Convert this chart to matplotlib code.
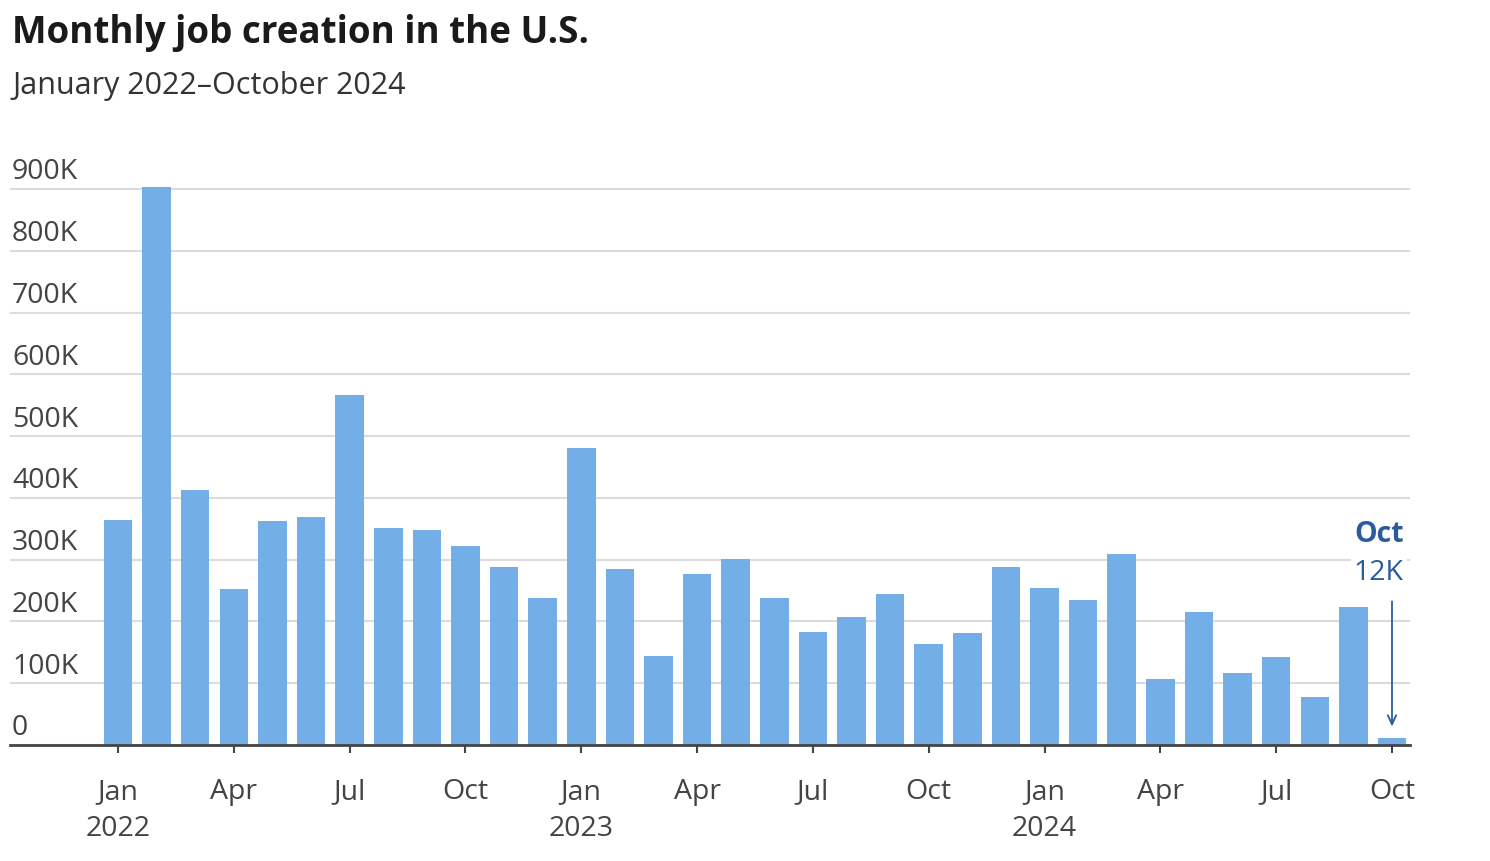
import matplotlib
matplotlib.use("Agg")
import matplotlib.pyplot as plt
import matplotlib.transforms as mtransforms

plt.rcParams['font.family'] = ['Open Sans', 'DejaVu Sans']

# ---- data (thousands of jobs) ----
months = ["Jan", "Feb", "Mar", "Apr", "May", "Jun", "Jul", "Aug", "Sep", "Oct", "Nov", "Dec"]
years = [2022, 2023, 2024]
jobs = [364, 904, 413, 252, 362, 369, 566, 351, 348, 322, 288, 238,
        481, 285, 144, 277, 301, 238, 183, 207, 244, 163, 181, 288,
        254, 235, 309, 107, 215, 117, 142, 78, 223, 12]
y_ticks = [0, 100, 200, 300, 400, 500, 600, 700, 800, 900]
y_tick_labels = ["0", "100K", "200K", "300K", "400K", "500K", "600K", "700K", "800K", "900K"]
title = "Monthly job creation in the U.S."
subtitle = "January 2022\u2013October 2024"
note_month = "Oct"
note_value = "12K"

labels = [months[i % 12] for i in range(len(jobs))]

W, H = 1490, 862
fig = plt.figure(figsize=(W / 100, H / 100), dpi=100)

ax_left, ax_right = 10, 1410
ax_bottom_px = 746
ymax = 950
px_per_k = 556 / 900.0
ax_top_px = ax_bottom_px - ymax * px_per_k
ax = fig.add_axes([ax_left / W, (H - ax_bottom_px) / H,
                   (ax_right - ax_left) / W, (ax_bottom_px - ax_top_px) / H])

x = list(range(len(jobs)))
bar_color = "#74aee7"
ax.bar(x, jobs, width=0.74, color=bar_color, zorder=2)

spacing = (1392 - 118) / 33.0
ax.set_xlim((ax_left - 118) / spacing, (ax_right - 118) / spacing)
ax.set_ylim(0, ymax)

ax.set_yticks(y_ticks)
ax.yaxis.grid(True, color="#dcdcdc", linewidth=1.5, zorder=0)
ax.set_axisbelow(True)
ax.tick_params(axis='y', length=0, labelleft=False)

tick_fs = 20.5
blend = mtransforms.blended_transform_factory(ax.transAxes, ax.transData)
for v, lab in zip(y_ticks, y_tick_labels):
    ax.annotate(lab, xy=(2 / 1400, v), xycoords=blend, xytext=(0, 7.6),
                textcoords='offset points', ha='left', va='baseline',
                fontsize=tick_fs, color="#444444")

tick_pos = [i for i in x if i % 3 == 0]
tick_labs = []
for i in tick_pos:
    lab = labels[i]
    if i % 12 == 0:
        lab = lab + "\n" + str(years[i // 12])
    tick_labs.append(lab)
ax.set_xticks(tick_pos)
ax.set_xticklabels(tick_labs, fontsize=tick_fs, color="#444444", linespacing=1.45, va='top')
ax.tick_params(axis='x', length=6, width=1.5, color="#444444", pad=17)

for s in ["top", "right", "left"]:
    ax.spines[s].set_visible(False)
ax.spines["bottom"].set_color("#444444")
ax.spines["bottom"].set_linewidth(2)
ax.spines["bottom"].set_zorder(3)

note_color = "#2a5b9c"
last = len(jobs) - 1
ax.annotate(note_month, xy=(last, jobs[last]), xytext=(8.6, 147), textcoords='offset points',
            ha='right', va='center', fontsize=tick_fs, fontweight='bold', color=note_color, zorder=5)
ax.annotate(note_value, xy=(last, jobs[last]), xytext=(8.6, 119.5), textcoords='offset points',
            ha='right', va='center', fontsize=tick_fs, color=note_color, zorder=5,
            bbox=dict(boxstyle='square,pad=0.1', facecolor='white', edgecolor='none'))
ax.annotate('', xy=(last, jobs[last]), xytext=(0, 98), textcoords='offset points',
            arrowprops=dict(arrowstyle='->,head_length=0.65,head_width=0.3', color=note_color,
                            lw=1.3, shrinkA=0, shrinkB=8), zorder=5)

fig.text(12 / W, (H - 43) / H, title, fontsize=26.5, fontweight='bold', color="#1a1a1a",
         ha='left', va='baseline')
fig.text(12 / W, (H - 94) / H, subtitle, fontsize=22, color="#333333",
         ha='left', va='baseline')

fig.savefig("out.png", dpi=100, facecolor="white")
